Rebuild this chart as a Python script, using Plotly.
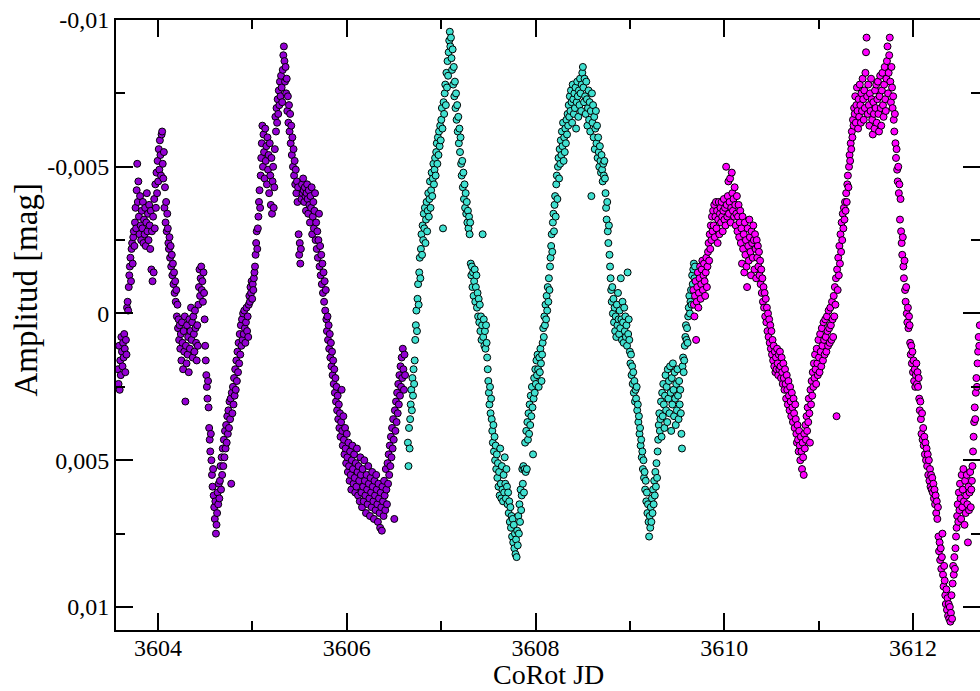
import plotly.graph_objects as go

# ---------------- data ----------------
violet_jd = [
    3603.576, 3603.582, 3603.588, 3603.594, 3603.600, 3603.606, 3603.612, 3603.618, 3603.624, 3603.630,
    3603.636, 3603.642, 3603.648, 3603.654, 3603.660, 3603.666, 3603.672, 3603.678, 3603.684, 3603.690,
    3603.696, 3603.702, 3603.708, 3603.714, 3603.720, 3603.726, 3603.732, 3603.738, 3603.744, 3603.750,
    3603.756, 3603.762, 3603.768, 3603.774, 3603.780, 3603.786, 3603.792, 3603.798, 3603.804, 3603.810,
    3603.816, 3603.822, 3603.828, 3603.834, 3603.840, 3603.846, 3603.852, 3603.858, 3603.864, 3603.870,
    3603.876, 3603.882, 3603.888, 3603.894, 3603.900, 3603.906, 3603.912, 3603.918, 3603.924, 3603.930,
    3603.936, 3603.942, 3603.948, 3603.954, 3603.960, 3603.966, 3603.972, 3603.978, 3603.984, 3603.990,
    3603.996, 3604.002, 3604.008, 3604.014, 3604.020, 3604.026, 3604.032, 3604.038, 3604.044, 3604.050,
    3604.056, 3604.062, 3604.068, 3604.074, 3604.080, 3604.086, 3604.092, 3604.098, 3604.104, 3604.110,
    3604.116, 3604.122, 3604.128, 3604.134, 3604.140, 3604.146, 3604.152, 3604.158, 3604.164, 3604.170,
    3604.176, 3604.182, 3604.188, 3604.194, 3604.200, 3604.206, 3604.212, 3604.218, 3604.224, 3604.230,
    3604.236, 3604.242, 3604.248, 3604.254, 3604.260, 3604.266, 3604.272, 3604.278, 3604.284, 3604.290,
    3604.296, 3604.302, 3604.308, 3604.314, 3604.320, 3604.326, 3604.332, 3604.338, 3604.344, 3604.350,
    3604.356, 3604.362, 3604.368, 3604.374, 3604.380, 3604.386, 3604.392, 3604.398, 3604.404, 3604.410,
    3604.416, 3604.422, 3604.428, 3604.434, 3604.440, 3604.446, 3604.452, 3604.458, 3604.464, 3604.470,
    3604.476, 3604.482, 3604.488, 3604.494, 3604.500, 3604.506, 3604.512, 3604.518, 3604.524, 3604.530,
    3604.536, 3604.542, 3604.548, 3604.554, 3604.560, 3604.566, 3604.572, 3604.578, 3604.584, 3604.590,
    3604.596, 3604.602, 3604.608, 3604.614, 3604.620, 3604.626, 3604.632, 3604.638, 3604.644, 3604.650,
    3604.656, 3604.662, 3604.668, 3604.674, 3604.680, 3604.686, 3604.692, 3604.698, 3604.704, 3604.710,
    3604.716, 3604.722, 3604.728, 3604.734, 3604.740, 3604.746, 3604.752, 3604.758, 3604.764, 3604.770,
    3604.776, 3604.782, 3604.788, 3604.794, 3604.800, 3604.806, 3604.812, 3604.818, 3604.824, 3604.830,
    3604.836, 3604.842, 3604.848, 3604.854, 3604.860, 3604.866, 3604.872, 3604.878, 3604.884, 3604.890,
    3604.896, 3604.902, 3604.908, 3604.914, 3604.920, 3604.926, 3604.932, 3604.938, 3604.944, 3604.950,
    3604.956, 3604.962, 3604.968, 3604.974, 3604.980, 3604.986, 3604.992, 3604.998, 3605.004, 3605.010,
    3605.016, 3605.022, 3605.028, 3605.034, 3605.040, 3605.046, 3605.052, 3605.058, 3605.064, 3605.070,
    3605.076, 3605.082, 3605.088, 3605.094, 3605.100, 3605.106, 3605.112, 3605.118, 3605.124, 3605.130,
    3605.136, 3605.142, 3605.148, 3605.154, 3605.160, 3605.166, 3605.172, 3605.178, 3605.184, 3605.190,
    3605.196, 3605.202, 3605.208, 3605.214, 3605.220, 3605.226, 3605.232, 3605.238, 3605.244, 3605.250,
    3605.256, 3605.262, 3605.268, 3605.274, 3605.280, 3605.286, 3605.292, 3605.298, 3605.304, 3605.310,
    3605.316, 3605.322, 3605.328, 3605.334, 3605.340, 3605.346, 3605.352, 3605.358, 3605.364, 3605.370,
    3605.376, 3605.382, 3605.388, 3605.394, 3605.400, 3605.406, 3605.412, 3605.418, 3605.424, 3605.430,
    3605.436, 3605.442, 3605.448, 3605.454, 3605.460, 3605.466, 3605.472, 3605.478, 3605.484, 3605.490,
    3605.496, 3605.502, 3605.508, 3605.514, 3605.520, 3605.526, 3605.532, 3605.538, 3605.544, 3605.550,
    3605.556, 3605.562, 3605.568, 3605.574, 3605.580, 3605.586, 3605.592, 3605.598, 3605.604, 3605.610,
    3605.616, 3605.622, 3605.628, 3605.634, 3605.640, 3605.646, 3605.652, 3605.658, 3605.664, 3605.670,
    3605.676, 3605.682, 3605.688, 3605.694, 3605.700, 3605.706, 3605.712, 3605.718, 3605.724, 3605.730,
    3605.736, 3605.742, 3605.748, 3605.754, 3605.760, 3605.766, 3605.772, 3605.778, 3605.784, 3605.790,
    3605.796, 3605.802, 3605.808, 3605.814, 3605.820, 3605.826, 3605.832, 3605.838, 3605.844, 3605.850,
    3605.856, 3605.862, 3605.868, 3605.874, 3605.880, 3605.886, 3605.892, 3605.898, 3605.904, 3605.910,
    3605.916, 3605.922, 3605.928, 3605.934, 3605.940, 3605.946, 3605.952, 3605.958, 3605.964, 3605.970,
    3605.976, 3605.982, 3605.988, 3605.994, 3606.000, 3606.006, 3606.012, 3606.018, 3606.024, 3606.030,
    3606.036, 3606.042, 3606.048, 3606.054, 3606.060, 3606.066, 3606.072, 3606.078, 3606.084, 3606.090,
    3606.096, 3606.102, 3606.108, 3606.114, 3606.120, 3606.126, 3606.132, 3606.138, 3606.144, 3606.150,
    3606.156, 3606.162, 3606.168, 3606.174, 3606.180, 3606.186, 3606.192, 3606.198, 3606.204, 3606.210,
    3606.216, 3606.222, 3606.228, 3606.234, 3606.240, 3606.246, 3606.252, 3606.258, 3606.264, 3606.270,
    3606.276, 3606.282, 3606.288, 3606.294, 3606.300, 3606.306, 3606.312, 3606.318, 3606.324, 3606.330,
    3606.336, 3606.342, 3606.348, 3606.354, 3606.360, 3606.366, 3606.372, 3606.378, 3606.384, 3606.390,
    3606.396, 3606.402, 3606.408, 3606.414, 3606.420, 3606.426, 3606.432, 3606.438, 3606.444, 3606.450,
    3606.456, 3606.462, 3606.468, 3606.474, 3606.480, 3606.486, 3606.492, 3606.498, 3606.504, 3606.510,
    3606.516, 3606.522, 3606.528, 3606.534, 3606.540, 3606.546, 3606.552, 3606.558, 3606.564, 3606.570,
    3606.576, 3606.582, 3606.588, 3606.594, 3606.600, 3606.606, 3606.612, 3606.618,
]
violet_amp = [
    0.0019, 0.0024, 0.0011, 0.0026, 0.0016, 0.0021, 0.0008, 0.0013, 0.0018, 0.0010,
    0.0015, 0.0007, 0.0012, 0.0020, 0.0009, 0.0014, -0.0002, -0.0004, -0.0001, -0.0009,
    -0.0013, -0.0016, -0.0019, -0.0011, -0.0022, -0.0024, -0.0017, -0.0026, -0.0028, -0.0023,
    -0.0031, -0.0036, -0.0029, -0.0042, -0.0051, -0.0038, -0.0045, -0.0033, -0.0027, -0.0040,
    -0.0030, -0.0025, -0.0035, -0.0029, -0.0038, -0.0024, -0.0032, -0.0027, -0.0036, -0.0023,
    -0.0031, -0.0041, -0.0028, -0.0034, -0.0025, -0.0037, -0.0030, -0.0022, -0.0035, -0.0015,
    -0.0028, -0.0011, -0.0033, -0.0014, -0.0039, -0.0029, -0.0044, -0.0036, -0.0048, -0.0041,
    -0.0052, -0.0045, -0.0056, -0.0049, -0.0059, -0.0054, -0.0047, -0.0061, -0.0062, -0.0051,
    -0.0046, -0.0055, -0.0036, -0.0043, -0.0031, -0.0038, -0.0028, -0.0034, -0.0029, -0.0024,
    -0.0022, -0.0026, -0.0019, -0.0023, -0.0016, -0.0020, -0.0013, -0.0017, -0.0010, -0.0014,
    -0.0007, -0.0011, -0.0004, -0.0008, 0.0001, -0.0003, 0.0005, 0.0002, 0.0009, 0.0004,
    0.0012, 0.0007, 0.0016, 0.0003, 0.0010, 0.0019, 0.0006, 0.0013, 0.0001, 0.0030,
    0.0011, 0.0017, 0.0004, 0.0014, 0.0008, 0.0020, 0.0002, 0.0012, 0.0006, -0.0002,
    0.0009, 0.0003, 0.0015, 0.0001, 0.0007, 0.0013, -0.0001, 0.0005, 0.0010, 0.0016,
    0.0004, 0.0011, -0.0003, -0.0009, -0.0015, -0.0006, -0.0012, -0.0016, -0.0008, -0.0011,
    -0.0004, -0.0014, -0.0007, 0.0002, 0.0011, 0.0016, 0.0021, 0.0025, 0.0029, 0.0023,
    0.0032, 0.0039, 0.0043, 0.0047, 0.0041, 0.0050, 0.0055, 0.0059, 0.0053, 0.0062,
    0.0066, 0.0070, 0.0064, 0.0075, 0.0072, 0.0068, 0.0061, 0.0065, 0.0058, 0.0063,
    0.0057, 0.0052, 0.0060, 0.0049, 0.0055, 0.0046, 0.0052, 0.0043, 0.0049, 0.0040,
    0.0046, 0.0038, 0.0044, 0.0035, 0.0041, 0.0033, 0.0039, 0.0030, 0.0036, 0.0029,
    0.0058, 0.0027, 0.0034, 0.0025, 0.0031, 0.0022, 0.0028, 0.0019, 0.0026, 0.0016,
    0.0023, 0.0013, 0.0020, 0.0010, 0.0017, 0.0007, 0.0014, 0.0004, 0.0011, 0.0002,
    0.0009, 0.0000, 0.0007, -0.0001, 0.0005, 0.0010, 0.0003, -0.0002, 0.0006, 0.0001,
    0.0008, -0.0003, -0.0006, -0.0004, -0.0009, -0.0007, -0.0011, -0.0005, -0.0010, -0.0008,
    -0.0012, -0.0014, -0.0016, -0.0020, -0.0024, -0.0028, -0.0022, -0.0029, -0.0033, -0.0038,
    -0.0042, -0.0036, -0.0047, -0.0053, -0.0058, -0.0064, -0.0050, -0.0061, -0.0055, -0.0046,
    -0.0063, -0.0052, -0.0057, -0.0044, -0.0060, -0.0049, -0.0054, -0.0041, -0.0058, -0.0047,
    -0.0037, -0.0053, -0.0034, -0.0045, -0.0050, -0.0036, -0.0043, -0.0056, -0.0067, -0.0062,
    -0.0070, -0.0065, -0.0073, -0.0068, -0.0076, -0.0071, -0.0079, -0.0074, -0.0081, -0.0077,
    -0.0072, -0.0083, -0.0088, -0.0091, -0.0086, -0.0079, -0.0084, -0.0075, -0.0080, -0.0069,
    -0.0074, -0.0065, -0.0071, -0.0062, -0.0068, -0.0058, -0.0064, -0.0054, -0.0060, -0.0050,
    -0.0056, -0.0047, -0.0052, -0.0044, -0.0049, -0.0041, -0.0045, -0.0038, -0.0043, -0.0027,
    -0.0020, -0.0024, -0.0017, -0.0022, -0.0039, -0.0044, -0.0041, -0.0046, -0.0042, -0.0038,
    -0.0043, -0.0040, -0.0035, -0.0041, -0.0044, -0.0039, -0.0034, -0.0042, -0.0037, -0.0031,
    -0.0040, -0.0036, -0.0043, -0.0027, -0.0033, -0.0038, -0.0029, -0.0035, -0.0041, -0.0025,
    -0.0031, -0.0022, -0.0028, -0.0019, -0.0025, -0.0034, -0.0016, -0.0023, -0.0013, -0.0020,
    -0.0010, -0.0017, -0.0007, -0.0014, -0.0004, -0.0011, -0.0001, -0.0008, 0.0002, 0.0006,
    0.0001, 0.0009, 0.0004, 0.0012, 0.0007, 0.0015, 0.0010, 0.0018, 0.0013, 0.0021,
    0.0016, 0.0024, 0.0019, 0.0027, 0.0022, 0.0030, 0.0025, 0.0033, 0.0028, 0.0036,
    0.0031, 0.0039, 0.0034, 0.0042, 0.0037, 0.0026, 0.0040, 0.0045, 0.0035, 0.0043,
    0.0048, 0.0039, 0.0046, 0.0051, 0.0041, 0.0049, 0.0054, 0.0044, 0.0052, 0.0057,
    0.0047, 0.0055, 0.0060, 0.0050, 0.0045, 0.0053, 0.0058, 0.0048, 0.0056, 0.0061,
    0.0051, 0.0059, 0.0046, 0.0054, 0.0062, 0.0052, 0.0057, 0.0064, 0.0049, 0.0055,
    0.0061, 0.0066, 0.0053, 0.0059, 0.0064, 0.0050, 0.0057, 0.0062, 0.0068, 0.0055,
    0.0060, 0.0065, 0.0052, 0.0058, 0.0063, 0.0069, 0.0056, 0.0061, 0.0066, 0.0054,
    0.0059, 0.0064, 0.0070, 0.0057, 0.0062, 0.0067, 0.0055, 0.0060, 0.0065, 0.0071,
    0.0058, 0.0063, 0.0068, 0.0073, 0.0061, 0.0066, 0.0074, 0.0059, 0.0064, 0.0069,
    0.0057, 0.0062, 0.0067, 0.0053, 0.0060, 0.0065, 0.0051, 0.0058, 0.0048, 0.0055,
    0.0045, 0.0052, 0.0042, 0.0049, 0.0039, 0.0046, 0.0036, 0.0043, 0.0070, 0.0033,
    0.0040, 0.0030, 0.0037, 0.0027, 0.0034, 0.0024, 0.0031, 0.0021, 0.0028, 0.0018,
    0.0025, 0.0015, 0.0022, 0.0012, 0.0019, 0.0026, 0.0014, 0.0021,
]

turquoise_jd = [
    3606.648, 3606.654, 3606.660, 3606.666, 3606.672, 3606.678, 3606.684, 3606.690, 3606.696, 3606.702,
    3606.708, 3606.714, 3606.720, 3606.726, 3606.732, 3606.738, 3606.744, 3606.750, 3606.756, 3606.762,
    3606.768, 3606.774, 3606.780, 3606.786, 3606.792, 3606.798, 3606.804, 3606.810, 3606.816, 3606.822,
    3606.828, 3606.834, 3606.840, 3606.846, 3606.852, 3606.858, 3606.864, 3606.870, 3606.876, 3606.882,
    3606.888, 3606.894, 3606.900, 3606.906, 3606.912, 3606.918, 3606.924, 3606.930, 3606.936, 3606.942,
    3606.948, 3606.954, 3606.960, 3606.966, 3606.972, 3606.978, 3606.984, 3606.990, 3606.996, 3607.002,
    3607.008, 3607.014, 3607.020, 3607.026, 3607.032, 3607.038, 3607.044, 3607.050, 3607.056, 3607.062,
    3607.068, 3607.074, 3607.080, 3607.086, 3607.092, 3607.098, 3607.104, 3607.110, 3607.116, 3607.122,
    3607.128, 3607.134, 3607.140, 3607.146, 3607.152, 3607.158, 3607.164, 3607.170, 3607.176, 3607.182,
    3607.188, 3607.194, 3607.200, 3607.206, 3607.212, 3607.218, 3607.224, 3607.230, 3607.236, 3607.242,
    3607.248, 3607.254, 3607.260, 3607.266, 3607.272, 3607.278, 3607.284, 3607.290, 3607.296, 3607.302,
    3607.308, 3607.314, 3607.320, 3607.326, 3607.332, 3607.338, 3607.344, 3607.350, 3607.356, 3607.362,
    3607.368, 3607.374, 3607.380, 3607.386, 3607.392, 3607.398, 3607.404, 3607.410, 3607.416, 3607.422,
    3607.428, 3607.434, 3607.440, 3607.446, 3607.452, 3607.458, 3607.464, 3607.470, 3607.476, 3607.482,
    3607.488, 3607.494, 3607.500, 3607.506, 3607.512, 3607.518, 3607.524, 3607.530, 3607.536, 3607.542,
    3607.548, 3607.554, 3607.560, 3607.566, 3607.572, 3607.578, 3607.584, 3607.590, 3607.596, 3607.602,
    3607.608, 3607.614, 3607.620, 3607.626, 3607.632, 3607.638, 3607.644, 3607.650, 3607.656, 3607.662,
    3607.668, 3607.674, 3607.680, 3607.686, 3607.692, 3607.698, 3607.704, 3607.710, 3607.716, 3607.722,
    3607.728, 3607.734, 3607.740, 3607.746, 3607.752, 3607.758, 3607.764, 3607.770, 3607.776, 3607.782,
    3607.788, 3607.794, 3607.800, 3607.806, 3607.812, 3607.818, 3607.824, 3607.830, 3607.836, 3607.842,
    3607.848, 3607.854, 3607.860, 3607.866, 3607.872, 3607.878, 3607.884, 3607.890, 3607.896, 3607.902,
    3607.908, 3607.914, 3607.920, 3607.926, 3607.932, 3607.938, 3607.944, 3607.950, 3607.956, 3607.962,
    3607.968, 3607.974, 3607.980, 3607.986, 3607.992, 3607.998, 3608.004, 3608.010, 3608.016, 3608.022,
    3608.028, 3608.034, 3608.040, 3608.046, 3608.052, 3608.058, 3608.064, 3608.070, 3608.076, 3608.082,
    3608.088, 3608.094, 3608.100, 3608.106, 3608.112, 3608.118, 3608.124, 3608.130, 3608.136, 3608.142,
    3608.148, 3608.154, 3608.160, 3608.166, 3608.172, 3608.178, 3608.184, 3608.190, 3608.196, 3608.202,
    3608.208, 3608.214, 3608.220, 3608.226, 3608.232, 3608.238, 3608.244, 3608.250, 3608.256, 3608.262,
    3608.268, 3608.274, 3608.280, 3608.286, 3608.292, 3608.298, 3608.304, 3608.310, 3608.316, 3608.322,
    3608.328, 3608.334, 3608.340, 3608.346, 3608.352, 3608.358, 3608.364, 3608.370, 3608.376, 3608.382,
    3608.388, 3608.394, 3608.400, 3608.406, 3608.412, 3608.418, 3608.424, 3608.430, 3608.436, 3608.442,
    3608.448, 3608.454, 3608.460, 3608.466, 3608.472, 3608.478, 3608.484, 3608.490, 3608.496, 3608.502,
    3608.508, 3608.514, 3608.520, 3608.526, 3608.532, 3608.538, 3608.544, 3608.550, 3608.556, 3608.562,
    3608.568, 3608.574, 3608.580, 3608.586, 3608.592, 3608.598, 3608.604, 3608.610, 3608.616, 3608.622,
    3608.628, 3608.634, 3608.640, 3608.646, 3608.652, 3608.658, 3608.664, 3608.670, 3608.676, 3608.682,
    3608.688, 3608.694, 3608.700, 3608.706, 3608.712, 3608.718, 3608.724, 3608.730, 3608.736, 3608.742,
    3608.748, 3608.754, 3608.760, 3608.766, 3608.772, 3608.778, 3608.784, 3608.790, 3608.796, 3608.802,
    3608.808, 3608.814, 3608.820, 3608.826, 3608.832, 3608.838, 3608.844, 3608.850, 3608.856, 3608.862,
    3608.868, 3608.874, 3608.880, 3608.886, 3608.892, 3608.898, 3608.904, 3608.910, 3608.916, 3608.922,
    3608.928, 3608.934, 3608.940, 3608.946, 3608.952, 3608.958, 3608.964, 3608.970, 3608.976, 3608.982,
    3608.988, 3608.994, 3609.000, 3609.006, 3609.012, 3609.018, 3609.024, 3609.030, 3609.036, 3609.042,
    3609.048, 3609.054, 3609.060, 3609.066, 3609.072, 3609.078, 3609.084, 3609.090, 3609.096, 3609.102,
    3609.108, 3609.114, 3609.120, 3609.126, 3609.132, 3609.138, 3609.144, 3609.150, 3609.156, 3609.162,
    3609.168, 3609.174, 3609.180, 3609.186, 3609.192, 3609.198, 3609.204, 3609.210, 3609.216, 3609.222,
    3609.228, 3609.234, 3609.240, 3609.246, 3609.252, 3609.258, 3609.264, 3609.270, 3609.276, 3609.282,
    3609.288, 3609.294, 3609.300, 3609.306, 3609.312, 3609.318, 3609.324, 3609.330, 3609.336, 3609.342,
    3609.348, 3609.354, 3609.360, 3609.366, 3609.372, 3609.378, 3609.384, 3609.390, 3609.396, 3609.402,
    3609.408, 3609.414, 3609.420, 3609.426, 3609.432, 3609.438, 3609.444, 3609.450, 3609.456, 3609.462,
    3609.468, 3609.474, 3609.480, 3609.486, 3609.492, 3609.498, 3609.504, 3609.510, 3609.516, 3609.522,
    3609.528, 3609.534, 3609.540, 3609.546, 3609.552, 3609.558, 3609.564, 3609.570, 3609.576, 3609.582,
    3609.588, 3609.594, 3609.600, 3609.606, 3609.612, 3609.618, 3609.624, 3609.630, 3609.636, 3609.642,
    3609.648, 3609.654, 3609.660, 3609.666, 3609.672, 3609.678, 3609.684, 3609.690,
]
turquoise_amp = [
    0.0044, 0.0052, 0.0039, 0.0046, 0.0036, 0.0031, 0.0026, 0.0033, 0.0022, 0.0028,
    0.0019, 0.0024, 0.0016, 0.0009, 0.0004, -0.0001, 0.0006, -0.0005, -0.0010, -0.0003,
    -0.0014, -0.0019, -0.0012, -0.0022, -0.0027, -0.0020, -0.0030, -0.0025, -0.0034, -0.0029,
    -0.0036, -0.0024, -0.0032, -0.0038, -0.0028, -0.0035, -0.0041, -0.0033, -0.0039, -0.0045,
    -0.0036, -0.0042, -0.0048, -0.0040, -0.0046, -0.0051, -0.0044, -0.0049, -0.0053, -0.0047,
    -0.0055, -0.0058, -0.0051, -0.0060, -0.0054, -0.0062, -0.0057, -0.0064, -0.0059, -0.0066,
    -0.0070, -0.0063, -0.0029, -0.0072, -0.0068, -0.0075, -0.0078, -0.0071, -0.0082, -0.0077,
    -0.0086, -0.0081, -0.0089, -0.0093, -0.0096, -0.0091, -0.0094, -0.0087, -0.0083, -0.0090,
    -0.0078, -0.0084, -0.0074, -0.0079, -0.0070, -0.0075, -0.0066, -0.0071, -0.0062, -0.0067,
    -0.0058, -0.0063, -0.0055, -0.0060, -0.0051, -0.0047, -0.0052, -0.0043, -0.0048, -0.0039,
    -0.0044, -0.0036, -0.0041, -0.0034, -0.0038, -0.0031, -0.0035, -0.0029, -0.0033, -0.0027,
    -0.0031, -0.0017, -0.0013, -0.0016, -0.0009, -0.0014, -0.0006, -0.0011, -0.0015, -0.0004,
    -0.0009, -0.0013, -0.0002, -0.0007, 0.0001, -0.0005, 0.0003, -0.0003, 0.0006, 0.0001,
    0.0009, 0.0004, -0.0027, 0.0008, 0.0002, 0.0011, 0.0006, 0.0012, 0.0004, 0.0010,
    0.0015, 0.0019, 0.0023, 0.0027, 0.0031, 0.0025, 0.0034, 0.0029, 0.0036, 0.0040,
    0.0044, 0.0038, 0.0047, 0.0042, 0.0050, 0.0045, 0.0053, 0.0048, 0.0056, 0.0051,
    0.0059, 0.0054, 0.0062, 0.0046, 0.0058, 0.0063, 0.0052, 0.0060, 0.0064, 0.0055,
    0.0061, 0.0049, 0.0058, 0.0063, 0.0053, 0.0059, 0.0065, 0.0061, 0.0068, 0.0064,
    0.0071, 0.0066, 0.0073, 0.0069, 0.0076, 0.0070, 0.0078, 0.0072, 0.0080, 0.0075,
    0.0082, 0.0077, 0.0083, 0.0074, 0.0079, 0.0069, 0.0075, 0.0065, 0.0071, 0.0060,
    0.0067, 0.0062, 0.0053, 0.0058, 0.0052, 0.0061, 0.0053, 0.0044, 0.0054, 0.0040,
    0.0053, 0.0037, 0.0043, 0.0034, 0.0041, 0.0031, 0.0038, 0.0028, 0.0035, 0.0025,
    0.0032, 0.0048, 0.0029, 0.0022, 0.0027, 0.0019, 0.0024, 0.0016, 0.0021, 0.0014,
    0.0019, 0.0025, 0.0015, 0.0020, 0.0012, 0.0017, 0.0023, 0.0014, 0.0010, 0.0005,
    0.0008, 0.0001, 0.0004, -0.0003, 0.0002, -0.0006, -0.0001, -0.0009, -0.0004, -0.0012,
    -0.0008, -0.0016, -0.0019, -0.0023, -0.0027, -0.0021, -0.0031, -0.0034, -0.0028, -0.0037,
    -0.0040, -0.0033, -0.0044, -0.0047, -0.0039, -0.0050, -0.0053, -0.0046, -0.0056, -0.0051,
    -0.0059, -0.0054, -0.0062, -0.0057, -0.0065, -0.0052, -0.0060, -0.0055, -0.0063, -0.0058,
    -0.0066, -0.0061, -0.0068, -0.0064, -0.0071, -0.0067, -0.0074, -0.0069, -0.0076, -0.0072,
    -0.0065, -0.0078, -0.0073, -0.0068, -0.0075, -0.0070, -0.0077, -0.0063, -0.0072, -0.0079,
    -0.0074, -0.0067, -0.0076, -0.0071, -0.0080, -0.0075, -0.0069, -0.0078, -0.0082, -0.0084,
    -0.0077, -0.0072, -0.0080, -0.0074, -0.0068, -0.0079, -0.0073, -0.0064, -0.0070, -0.0076,
    -0.0066, -0.0072, -0.0062, -0.0069, -0.0040, -0.0075, -0.0065, -0.0071, -0.0060, -0.0067,
    -0.0056, -0.0063, -0.0069, -0.0058, -0.0064, -0.0053, -0.0060, -0.0055, -0.0050, -0.0057,
    -0.0052, -0.0048, -0.0054, -0.0049, -0.0045, -0.0051, -0.0047, -0.0052, -0.0046, -0.0041,
    -0.0036, -0.0032, -0.0038, -0.0028, -0.0024, -0.0030, -0.0020, -0.0016, -0.0012, -0.0008,
    -0.0004, -0.0009, 0.0000, -0.0005, 0.0003, -0.0002, 0.0006, 0.0001, 0.0008, -0.0003,
    0.0004, -0.0007, 0.0002, 0.0007, -0.0001, 0.0005, -0.0012, 0.0002, 0.0009, -0.0004,
    0.0003, 0.0010, -0.0002, 0.0006, 0.0001, 0.0008, 0.0004, 0.0011, -0.0014, 0.0007,
    0.0002, 0.0009, 0.0013, 0.0017, 0.0014, 0.0021, 0.0018, 0.0024, 0.0020, 0.0027,
    0.0023, 0.0030, 0.0026, 0.0029, 0.0025, 0.0033, 0.0031, 0.0037, 0.0035, 0.0041,
    0.0039, 0.0045, 0.0043, 0.0049, 0.0047, 0.0053, 0.0050, 0.0056, 0.0054, 0.0060,
    0.0057, 0.0064, 0.0061, 0.0068, 0.0065, 0.0071, 0.0076, 0.0069, 0.0073, 0.0066,
    0.0071, 0.0063, 0.0068, 0.0060, 0.0065, 0.0057, 0.0062, 0.0054, 0.0059, 0.0051,
    0.0056, 0.0047, 0.0043, 0.0038, 0.0034, 0.0040, 0.0036, 0.0030, 0.0042, 0.0027,
    0.0035, 0.0024, 0.0031, 0.0039, 0.0028, 0.0021, 0.0033, 0.0025, 0.0037, 0.0019,
    0.0029, 0.0023, 0.0034, 0.0018, 0.0027, 0.0040, 0.0022, 0.0031, 0.0017, 0.0026,
    0.0035, 0.0020, 0.0029, 0.0038, 0.0024, 0.0033, 0.0019, 0.0028, 0.0036, 0.0023,
    0.0031, 0.0026, 0.0034, 0.0041, 0.0046, 0.0018, 0.0015, 0.0020, 0.0016, 0.0011,
    0.0008, 0.0004, 0.0009, 0.0005, 0.0010, 0.0001, -0.0002, -0.0006, 0.0000, -0.0004,
    -0.0008, -0.0003, -0.0013, -0.0010, -0.0015, -0.0017, -0.0012, -0.0016,
]

magenta_jd = [
    3609.672, 3609.678, 3609.684, 3609.690, 3609.696, 3609.702, 3609.708, 3609.714, 3609.720, 3609.726,
    3609.732, 3609.738, 3609.744, 3609.750, 3609.756, 3609.762, 3609.768, 3609.774, 3609.780, 3609.786,
    3609.792, 3609.798, 3609.804, 3609.810, 3609.816, 3609.822, 3609.828, 3609.834, 3609.840, 3609.846,
    3609.852, 3609.858, 3609.864, 3609.870, 3609.876, 3609.882, 3609.888, 3609.894, 3609.900, 3609.906,
    3609.912, 3609.918, 3609.924, 3609.930, 3609.936, 3609.942, 3609.948, 3609.954, 3609.960, 3609.966,
    3609.972, 3609.978, 3609.984, 3609.990, 3609.996, 3610.002, 3610.008, 3610.014, 3610.020, 3610.026,
    3610.032, 3610.038, 3610.044, 3610.050, 3610.056, 3610.062, 3610.068, 3610.074, 3610.080, 3610.086,
    3610.092, 3610.098, 3610.104, 3610.110, 3610.116, 3610.122, 3610.128, 3610.134, 3610.140, 3610.146,
    3610.152, 3610.158, 3610.164, 3610.170, 3610.176, 3610.182, 3610.188, 3610.194, 3610.200, 3610.206,
    3610.212, 3610.218, 3610.224, 3610.230, 3610.236, 3610.242, 3610.248, 3610.254, 3610.260, 3610.266,
    3610.272, 3610.278, 3610.284, 3610.290, 3610.296, 3610.302, 3610.308, 3610.314, 3610.320, 3610.326,
    3610.332, 3610.338, 3610.344, 3610.350, 3610.356, 3610.362, 3610.368, 3610.374, 3610.380, 3610.386,
    3610.392, 3610.398, 3610.404, 3610.410, 3610.416, 3610.422, 3610.428, 3610.434, 3610.440, 3610.446,
    3610.452, 3610.458, 3610.464, 3610.470, 3610.476, 3610.482, 3610.488, 3610.494, 3610.500, 3610.506,
    3610.512, 3610.518, 3610.524, 3610.530, 3610.536, 3610.542, 3610.548, 3610.554, 3610.560, 3610.566,
    3610.572, 3610.578, 3610.584, 3610.590, 3610.596, 3610.602, 3610.608, 3610.614, 3610.620, 3610.626,
    3610.632, 3610.638, 3610.644, 3610.650, 3610.656, 3610.662, 3610.668, 3610.674, 3610.680, 3610.686,
    3610.692, 3610.698, 3610.704, 3610.710, 3610.716, 3610.722, 3610.728, 3610.734, 3610.740, 3610.746,
    3610.752, 3610.758, 3610.764, 3610.770, 3610.776, 3610.782, 3610.788, 3610.794, 3610.800, 3610.806,
    3610.812, 3610.818, 3610.824, 3610.830, 3610.836, 3610.842, 3610.848, 3610.854, 3610.860, 3610.866,
    3610.872, 3610.878, 3610.884, 3610.890, 3610.896, 3610.902, 3610.908, 3610.914, 3610.920, 3610.926,
    3610.932, 3610.938, 3610.944, 3610.950, 3610.956, 3610.962, 3610.968, 3610.974, 3610.980, 3610.986,
    3610.992, 3610.998, 3611.004, 3611.010, 3611.016, 3611.022, 3611.028, 3611.034, 3611.040, 3611.046,
    3611.052, 3611.058, 3611.064, 3611.070, 3611.076, 3611.082, 3611.088, 3611.094, 3611.100, 3611.106,
    3611.112, 3611.118, 3611.124, 3611.130, 3611.136, 3611.142, 3611.148, 3611.154, 3611.160, 3611.166,
    3611.172, 3611.178, 3611.184, 3611.190, 3611.196, 3611.202, 3611.208, 3611.214, 3611.220, 3611.226,
    3611.232, 3611.238, 3611.244, 3611.250, 3611.256, 3611.262, 3611.268, 3611.274, 3611.280, 3611.286,
    3611.292, 3611.298, 3611.304, 3611.310, 3611.316, 3611.322, 3611.328, 3611.334, 3611.340, 3611.346,
    3611.352, 3611.358, 3611.364, 3611.370, 3611.376, 3611.382, 3611.388, 3611.394, 3611.400, 3611.406,
    3611.412, 3611.418, 3611.424, 3611.430, 3611.436, 3611.442, 3611.448, 3611.454, 3611.460, 3611.466,
    3611.472, 3611.478, 3611.484, 3611.490, 3611.496, 3611.502, 3611.508, 3611.514, 3611.520, 3611.526,
    3611.532, 3611.538, 3611.544, 3611.550, 3611.556, 3611.562, 3611.568, 3611.574, 3611.580, 3611.586,
    3611.592, 3611.598, 3611.604, 3611.610, 3611.616, 3611.622, 3611.628, 3611.634, 3611.640, 3611.646,
    3611.652, 3611.658, 3611.664, 3611.670, 3611.676, 3611.682, 3611.688, 3611.694, 3611.700, 3611.706,
    3611.712, 3611.718, 3611.724, 3611.730, 3611.736, 3611.742, 3611.748, 3611.754, 3611.760, 3611.766,
    3611.772, 3611.778, 3611.784, 3611.790, 3611.796, 3611.802, 3611.808, 3611.814, 3611.820, 3611.826,
    3611.832, 3611.838, 3611.844, 3611.850, 3611.856, 3611.862, 3611.868, 3611.874, 3611.880, 3611.886,
    3611.892, 3611.898, 3611.904, 3611.910, 3611.916, 3611.922, 3611.928, 3611.934, 3611.940, 3611.946,
    3611.952, 3611.958, 3611.964, 3611.970, 3611.976, 3611.982, 3611.988, 3611.994, 3612.000, 3612.006,
    3612.012, 3612.018, 3612.024, 3612.030, 3612.036, 3612.042, 3612.048, 3612.054, 3612.060, 3612.066,
    3612.072, 3612.078, 3612.084, 3612.090, 3612.096, 3612.102, 3612.108, 3612.114, 3612.120, 3612.126,
    3612.132, 3612.138, 3612.144, 3612.150, 3612.156, 3612.162, 3612.168, 3612.174, 3612.180, 3612.186,
    3612.192, 3612.198, 3612.204, 3612.210, 3612.216, 3612.222, 3612.228, 3612.234, 3612.240, 3612.246,
    3612.252, 3612.258, 3612.264, 3612.270, 3612.276, 3612.282, 3612.288, 3612.294, 3612.300, 3612.306,
    3612.312, 3612.318, 3612.324, 3612.330, 3612.336, 3612.342, 3612.348, 3612.354, 3612.360, 3612.366,
    3612.372, 3612.378, 3612.384, 3612.390, 3612.396, 3612.402, 3612.408, 3612.414, 3612.420, 3612.426,
    3612.432, 3612.438, 3612.444, 3612.450, 3612.456, 3612.462, 3612.468, 3612.474, 3612.480, 3612.486,
    3612.492, 3612.498, 3612.504, 3612.510, 3612.516, 3612.522, 3612.528, 3612.534, 3612.540, 3612.546,
    3612.552, 3612.558, 3612.564, 3612.570, 3612.576, 3612.582, 3612.588, 3612.594, 3612.600, 3612.606,
    3612.612, 3612.618, 3612.624, 3612.630, 3612.636, 3612.642, 3612.648, 3612.654, 3612.660, 3612.666,
    3612.672, 3612.678, 3612.684, 3612.690, 3612.696, 3612.702, 3612.708,
]
magenta_amp = [
    -0.0008, -0.0003, 0.0001, -0.0006, -0.0011, 0.0009, -0.0004, -0.0009, -0.0014, -0.0002,
    -0.0007, -0.0012, -0.0016, -0.0005, -0.0010, -0.0015, -0.0018, -0.0008, -0.0013, -0.0017,
    -0.0011, -0.0006, -0.0014, -0.0019, -0.0009, -0.0016, -0.0021, -0.0024, -0.0018, -0.0027,
    -0.0022, -0.0030, -0.0025, -0.0033, -0.0028, -0.0035, -0.0030, -0.0037, -0.0026, -0.0033,
    -0.0038, -0.0029, -0.0035, -0.0024, -0.0032, -0.0038, -0.0027, -0.0034, -0.0036, -0.0031,
    -0.0038, -0.0033, -0.0028, -0.0035, -0.0039, -0.0032, -0.0036, -0.0030, -0.0050, -0.0037,
    -0.0033, -0.0040, -0.0045, -0.0034, -0.0038, -0.0046, -0.0031, -0.0036, -0.0048, -0.0041,
    -0.0035, -0.0039, -0.0033, -0.0043, -0.0037, -0.0030, -0.0034, -0.0040, -0.0028, -0.0033,
    -0.0037, -0.0026, -0.0031, -0.0035, -0.0024, -0.0029, -0.0017, -0.0033, -0.0022, -0.0027,
    -0.0014, -0.0031, -0.0020, -0.0025, -0.0016, -0.0009, -0.0029, -0.0023, -0.0018, -0.0032,
    -0.0026, -0.0021, -0.0013, -0.0028, -0.0024, -0.0019, -0.0030, -0.0025, -0.0015, -0.0027,
    -0.0022, -0.0012, -0.0025, -0.0019, -0.0023, -0.0016, -0.0021, -0.0013, -0.0018, -0.0010,
    -0.0015, -0.0007, -0.0012, -0.0004, -0.0009, -0.0002, -0.0007, 0.0001, -0.0005, 0.0003,
    -0.0002, 0.0006, 0.0000, 0.0008, 0.0002, 0.0010, 0.0004, 0.0012, 0.0006, 0.0014,
    0.0009, 0.0016, 0.0011, 0.0018, 0.0013, 0.0020, 0.0015, 0.0019, 0.0012, 0.0017,
    0.0021, 0.0014, 0.0019, 0.0013, 0.0018, 0.0022, 0.0015, 0.0020, 0.0024, 0.0017,
    0.0022, 0.0026, 0.0019, 0.0024, 0.0029, 0.0021, 0.0026, 0.0031, 0.0023, 0.0028,
    0.0033, 0.0025, 0.0030, 0.0035, 0.0027, 0.0032, 0.0037, 0.0029, 0.0034, 0.0039,
    0.0031, 0.0036, 0.0041, 0.0044, 0.0038, 0.0043, 0.0047, 0.0040, 0.0045, 0.0050,
    0.0042, 0.0047, 0.0053, 0.0044, 0.0049, 0.0055, 0.0041, 0.0046, 0.0038, 0.0043,
    0.0035, 0.0040, 0.0032, 0.0037, 0.0029, 0.0034, 0.0044, 0.0026, 0.0031, 0.0023,
    0.0028, 0.0020, 0.0025, 0.0017, 0.0022, 0.0014, 0.0019, 0.0024, 0.0012, 0.0017,
    0.0021, 0.0009, 0.0015, 0.0020, 0.0007, 0.0013, 0.0018, 0.0005, 0.0011, 0.0016,
    0.0003, 0.0009, 0.0014, 0.0002, 0.0008, 0.0013, 0.0001, 0.0006, 0.0011, -0.0001,
    0.0005, 0.0010, -0.0002, 0.0004, 0.0009, -0.0004, 0.0002, 0.0008, -0.0006, 0.0001,
    -0.0009, -0.0003, -0.0012, 0.0035, -0.0015, -0.0008, -0.0019, -0.0013, -0.0023, -0.0017,
    -0.0027, -0.0021, -0.0031, -0.0025, -0.0034, -0.0029, -0.0036, -0.0032, -0.0038, -0.0035,
    -0.0041, -0.0038, -0.0044, -0.0047, -0.0043, -0.0050, -0.0054, -0.0052, -0.0058, -0.0056,
    -0.0062, -0.0060, -0.0066, -0.0064, -0.0070, -0.0068, -0.0074, -0.0065, -0.0071, -0.0077,
    -0.0069, -0.0063, -0.0073, -0.0067, -0.0078, -0.0071, -0.0065, -0.0075, -0.0069, -0.0080,
    -0.0073, -0.0066, -0.0076, -0.0070, -0.0082, -0.0089, -0.0094, -0.0074, -0.0068, -0.0078,
    -0.0071, -0.0064, -0.0075, -0.0069, -0.0080, -0.0073, -0.0066, -0.0061, -0.0072, -0.0068,
    -0.0063, -0.0076, -0.0070, -0.0078, -0.0065, -0.0073, -0.0079, -0.0068, -0.0062, -0.0074,
    -0.0081, -0.0070, -0.0064, -0.0076, -0.0082, -0.0071, -0.0067, -0.0078, -0.0084, -0.0073,
    -0.0069, -0.0080, -0.0086, -0.0091, -0.0075, -0.0082, -0.0088, -0.0094, -0.0079, -0.0072,
    -0.0084, -0.0077, -0.0070, -0.0074, -0.0066, -0.0062, -0.0068, -0.0058, -0.0053, -0.0056,
    -0.0049, -0.0045, -0.0050, -0.0041, -0.0044, -0.0032, -0.0039, -0.0028, -0.0024, -0.0020,
    -0.0026, -0.0016, -0.0012, -0.0018, -0.0008, -0.0004, -0.0009, 0.0000, 0.0003, -0.0002,
    0.0005, 0.0001, 0.0004, 0.0010, 0.0014, 0.0011, 0.0017, 0.0013, 0.0020, 0.0016,
    0.0023, 0.0019, 0.0025, 0.0021, 0.0017, 0.0024, 0.0020, 0.0025, 0.0022, 0.0029,
    0.0033, 0.0030, 0.0036, 0.0041, 0.0034, 0.0043, 0.0039, 0.0045, 0.0042, 0.0048,
    0.0044, 0.0050, 0.0046, 0.0052, 0.0048, 0.0055, 0.0050, 0.0057, 0.0053, 0.0059,
    0.0055, 0.0060, 0.0056, 0.0061, 0.0058, 0.0063, 0.0060, 0.0065, 0.0062, 0.0068,
    0.0064, 0.0070, 0.0066, 0.0076, 0.0081, 0.0078, 0.0084, 0.0080, 0.0087, 0.0083,
    0.0075, 0.0089, 0.0093, 0.0086, 0.0091, 0.0096, 0.0099, 0.0094, 0.0101, 0.0097,
    0.0103, 0.0099, 0.0104, 0.0100, 0.0105, 0.0102, 0.0096, 0.0104, 0.0092, 0.0086,
    0.0089, 0.0083, 0.0087, 0.0080, 0.0076, 0.0073, 0.0069, 0.0065, 0.0071, 0.0061,
    0.0067, 0.0058, 0.0063, 0.0070, 0.0055, 0.0066, 0.0060, 0.0053, 0.0064, 0.0072,
    0.0057, 0.0068, 0.0062, 0.0055, 0.0065, 0.0078, 0.0059, 0.0067, 0.0061, 0.0054,
    0.0066, 0.0060, 0.0057, 0.0052, 0.0047, 0.0042, 0.0037, 0.0032, 0.0036, 0.0027,
    0.0022, 0.0025, 0.0017, 0.0013, 0.0008, 0.0011, 0.0004,
]

x_tick_vals = [3604, 3606, 3608, 3610, 3612]
x_minor_vals = [3605, 3607, 3609, 3611]
y_tick_vals = [-0.01, -0.005, 0, 0.005, 0.01]
y_tick_text = ["-0,01", "-0,005", "0", "0,005", "0,01"]
y_minor_vals = [-0.0075, -0.0025, 0.0025, 0.0075]

series = [
    (violet_jd, violet_amp, "#9400D3"),
    (turquoise_jd, turquoise_amp, "#40E0D0"),
    (magenta_jd, magenta_amp, "#FF00FF"),
]

X_RANGE = [3603.555, 3612.71]
Y_RANGE = [0.010784, -0.01]
SERIF = "Liberation Serif, Times New Roman, serif"

fig = go.Figure()
for jd, amp, col in series:
    n = min(len(jd), len(amp))
    fig.add_trace(go.Scatter(
        x=jd[:n], y=amp[:n], mode="markers",
        marker=dict(size=7, color=col, line=dict(color="black", width=1)),
        showlegend=False, hoverinfo="skip",
    ))

# helper trace so the right-hand (tick only) axis is rendered
fig.add_trace(go.Scatter(x=[X_RANGE[0]], y=[0], yaxis="y2", mode="markers",
                         marker=dict(size=1, opacity=0), showlegend=False, hoverinfo="skip"))

tick_common = dict(ticks="inside", ticklen=17, tickwidth=1.5, tickcolor="black",
                   showgrid=False, zeroline=False)
minor_common = dict(ticks="inside", ticklen=9, tickwidth=1.5, tickcolor="black", showgrid=False)

fig.update_layout(
    width=980, height=691,
    margin=dict(l=116, r=0, t=20, b=61, pad=0),
    paper_bgcolor="white", plot_bgcolor="white",
    font=dict(family=SERIF, size=24, color="black"),
    showlegend=False,
    xaxis=dict(
        range=X_RANGE, tickmode="array", tickvals=x_tick_vals,
        ticktext=[str(v) for v in x_tick_vals],
        showline=True, linewidth=2, linecolor="black", mirror="ticks",
        tickfont=dict(family=SERIF, size=24, color="black"),
        ticklabelstandoff=-5,
        minor=dict(tickmode="array", tickvals=x_minor_vals, **minor_common),
        **tick_common,
    ),
    yaxis=dict(
        range=Y_RANGE, tickmode="array", tickvals=y_tick_vals, ticktext=y_tick_text,
        showline=True, linewidth=2, linecolor="black", mirror=False,
        tickfont=dict(family=SERIF, size=24, color="black"),
        minor=dict(tickmode="array", tickvals=y_minor_vals, **minor_common),
        **tick_common,
    ),
    yaxis2=dict(
        overlaying="y", side="right", range=Y_RANGE,
        tickmode="array", tickvals=y_tick_vals, showticklabels=False,
        showline=False,
        minor=dict(tickmode="array", tickvals=y_minor_vals, **minor_common),
        **tick_common,
    ),
    annotations=[
        dict(text="CoRot JD", xref="paper", yref="paper", x=0.5, y=0,
             xanchor="center", yanchor="top", yshift=-28, borderpad=0, showarrow=False,
             font=dict(family=SERIF, size=28, color="black")),
        dict(text="Amplitud [mag]", xref="paper", yref="paper", x=0, y=0.558,
             xanchor="center", yanchor="middle", xshift=-90, textangle=-90,
             showarrow=False, font=dict(family=SERIF, size=33, color="black")),
    ],
)

fig.write_html("out.html")
